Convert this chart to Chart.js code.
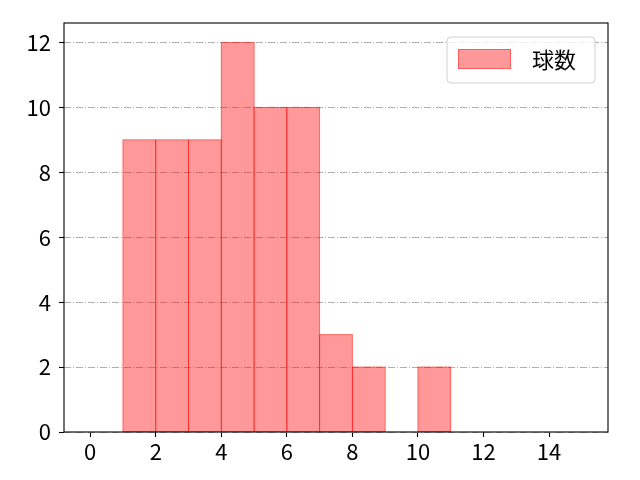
<!DOCTYPE html>
<html>
<head>
<meta charset="utf-8">
<script src="https://cdn.jsdelivr.net/npm/chart.js@4/dist/chart.umd.min.js"></script>
<style>
  html, body { margin: 0; padding: 0; background: #fff; }
  #wrap { width: 640px; height: 480px; }
</style>
</head>
<body>
<div id="wrap"><canvas id="hist" width="640" height="480"></canvas></div>
<script>
const SERIES_LABEL = "球数";
const BIN_STARTS = [1, 2, 3, 4, 5, 6, 7, 8, 9, 10];
const COUNTS = [9, 9, 9, 12, 10, 10, 3, 2, 0, 2];
const BIN_WIDTH = 1;
const X_TICKS = [0, 2, 4, 6, 8, 10, 12, 14];
const Y_TICKS = [0, 2, 4, 6, 8, 10, 12];

const FILL = "rgba(255, 0, 0, 0.4)";
const EDGE = "rgba(255, 0, 0, 0.4)";
const FONT = "'Noto Sans CJK JP', 'DejaVu Sans', sans-serif";
const FONT_SIZE = 22;

Chart.defaults.font.family = FONT;
Chart.defaults.font.size = FONT_SIZE;
Chart.defaults.color = "#000";

// bar edges centred on the bin boundaries, like matplotlib
const barEdges = {
  id: "barEdges",
  afterDatasetsDraw(chart) {
    const { ctx } = chart;
    ctx.save();
    ctx.strokeStyle = EDGE;
    ctx.lineWidth = 1;
    for (const bar of chart.getDatasetMeta(0).data) {
      const { x, y, base, width } = bar.getProps(["x", "y", "base", "width"], true);
      if (Math.abs(base - y) < 0.5) continue;
      ctx.strokeRect(x - width / 2, y, width, base - y);
    }
    ctx.restore();
  },
};

// matplotlib-style frame and legend box inside the plot area
const frameAndLegend = {
  id: "frameAndLegend",
  afterDraw(chart) {
    const { ctx, chartArea: a } = chart;
    ctx.save();
    ctx.strokeStyle = "#000";
    ctx.lineWidth = 1.1;
    ctx.strokeRect(a.left, a.top, a.right - a.left, a.bottom - a.top);

    const bx = 447, by = 37, bw = 148, bh = 46, r = 4;
    ctx.beginPath();
    ctx.roundRect(bx, by, bw, bh, r);
    ctx.fillStyle = "rgba(255,255,255,0.8)";
    ctx.fill();
    ctx.strokeStyle = "#d0d0d0";
    ctx.lineWidth = 1;
    ctx.stroke();

    ctx.fillStyle = FILL;
    ctx.fillRect(458, 49, 53, 20);
    ctx.strokeStyle = EDGE;
    ctx.strokeRect(458.5, 49.5, 52, 19);

    ctx.fillStyle = "#000";
    ctx.font = FONT_SIZE + "px " + FONT;
    ctx.textBaseline = "middle";
    ctx.textAlign = "left";
    ctx.fillText(chart.data.datasets[0].label, 532, 60);
    ctx.restore();
  },
};

new Chart(document.getElementById("hist"), {
  type: "bar",
  data: {
    datasets: [{
      label: SERIES_LABEL,
      data: BIN_STARTS.map((s, i) => ({ x: s + BIN_WIDTH / 2, y: COUNTS[i] })),
      backgroundColor: FILL,
      borderWidth: 0,
      categoryPercentage: 1,
      barPercentage: 1,
    }],
  },
  options: {
    responsive: false,
    animation: false,
    layout: { padding: { left: 0, right: 32, top: 23, bottom: 0 } },
    plugins: { legend: { display: false }, tooltip: { enabled: false } },
    scales: {
      x: {
        type: "linear",
        offset: false,
        min: -0.8,
        max: 15.8,
        afterBuildTicks: (s) => { s.ticks = X_TICKS.map((v) => ({ value: v })); },
        afterFit: (s) => { s.height = 48; },
        ticks: { padding: 1, maxRotation: 0, autoSkip: false },
        grid: { offset: false, drawOnChartArea: false, drawTicks: true, tickLength: 5, tickColor: "#000", tickWidth: 1.1 },
        border: { display: false },
      },
      y: {
        min: 0,
        max: 12.6,
        afterBuildTicks: (s) => { s.ticks = Y_TICKS.map((v) => ({ value: v })); },
        afterFit: (s) => { s.width = 64; },
        ticks: { padding: 8, autoSkip: false },
        grid: {
          color: "#b0b0b0",
          lineWidth: 1,
          drawTicks: true,
          tickLength: 5,
          tickColor: "#000",
          tickWidth: 1.1,
          tickBorderDash: [],
        },
        border: { display: false, dash: [7, 2, 1, 2] },
      },
    },
  },
  plugins: [barEdges, frameAndLegend],
});
</script>
</body>
</html>
